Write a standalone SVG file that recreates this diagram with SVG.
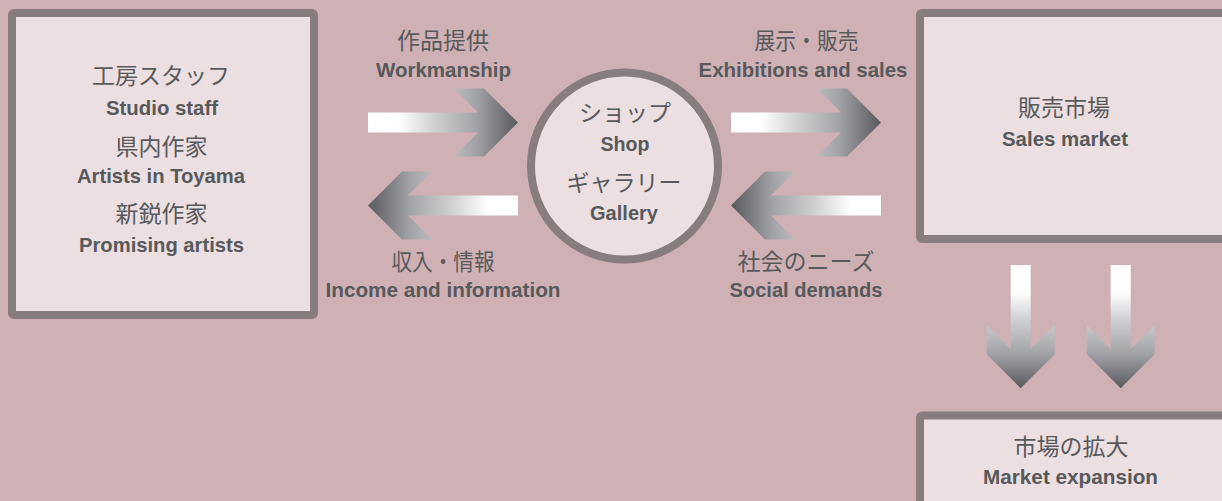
<svg xmlns="http://www.w3.org/2000/svg" xmlns:xlink="http://www.w3.org/1999/xlink" width="1222" height="501" viewBox="0 0 1222 501">
<style>
.box{fill:#ebdfe1;stroke:#877c7e;stroke-width:8}
.jp{font-family:"Noto Sans CJK JP","Noto Sans",sans-serif;font-size:23px;fill:#58595b;text-anchor:middle}
.en{font-family:"Liberation Sans","Open Sans",sans-serif;font-weight:bold;font-size:20.5px;fill:#58595b;text-anchor:middle}
</style>
<defs>
<linearGradient id="gR" x1="0" y1="0" x2="1" y2="0">
<stop offset="0" stop-color="#ffffff"/><stop offset="0.2" stop-color="#ffffff"/><stop offset="0.45" stop-color="#cdcfd1"/><stop offset="0.72" stop-color="#a1a3a6"/><stop offset="1" stop-color="#58595c"/>
</linearGradient>
<linearGradient id="gL" x1="1" y1="0" x2="0" y2="0">
<stop offset="0" stop-color="#ffffff"/><stop offset="0.2" stop-color="#ffffff"/><stop offset="0.45" stop-color="#cdcfd1"/><stop offset="0.72" stop-color="#a1a3a6"/><stop offset="1" stop-color="#58595c"/>
</linearGradient>
<linearGradient id="gD" x1="0" y1="0" x2="0" y2="1">
<stop offset="0" stop-color="#ffffff"/><stop offset="0.22" stop-color="#ffffff"/><stop offset="0.45" stop-color="#cdcfd1"/><stop offset="0.72" stop-color="#a1a3a6"/><stop offset="1" stop-color="#58595c"/>
</linearGradient>
<path id="arR" d="M368,112.5 H478 L454,88.5 H484 L518,122.5 L484,156.5 H454 L478,132.5 H368 Z" fill="url(#gR)"/>
<path id="arL" d="M518,195.5 H408 L432,171.5 H402 L368,205.5 L402,239.5 H432 L408,215.5 H518 Z" fill="url(#gL)"/>
<path id="arD" d="M1010.7,265 V349 L986.7,325 V354.3 L1020.7,388.3 L1054.7,354.3 V325 L1030.7,349 V265 Z" fill="url(#gD)"/>
</defs>
<rect width="1222" height="501" fill="#cfb1b5"/>

<g id="connectors">
<use xlink:href="#arR"/>
<use xlink:href="#arL"/>
<use xlink:href="#arR" transform="translate(363,0)"/>
<use xlink:href="#arL" transform="translate(363,0)"/>
<use xlink:href="#arD"/>
<use xlink:href="#arD" transform="translate(100,0)"/>
<text class="jp" x="443" y="49">作品提供</text>
<text class="en" x="443.5" y="77" textLength="135" lengthAdjust="spacingAndGlyphs">Workmanship</text>
<text class="jp" x="443" y="270" textLength="103" lengthAdjust="spacingAndGlyphs">収入・情報</text>
<text class="en" x="443" y="297" textLength="235" lengthAdjust="spacingAndGlyphs">Income and information</text>
<text class="jp" x="806.5" y="49" textLength="104" lengthAdjust="spacingAndGlyphs">展示・販売</text>
<text class="en" x="803" y="77" textLength="209" lengthAdjust="spacingAndGlyphs">Exhibitions and sales</text>
<text class="jp" x="806" y="270">社会のニーズ</text>
<text class="en" x="806" y="297" textLength="153" lengthAdjust="spacingAndGlyphs">Social demands</text>
</g>

<g id="node-studio">
<rect class="box" x="12" y="13" width="302" height="302" rx="2"/>
<text class="jp" x="161" y="84">工房スタッフ</text>
<text class="en" x="162" y="115" textLength="112" lengthAdjust="spacingAndGlyphs">Studio staff</text>
<text class="jp" x="161.5" y="155">県内作家</text>
<text class="en" x="161" y="183" textLength="168" lengthAdjust="spacingAndGlyphs">Artists in Toyama</text>
<text class="jp" x="161.5" y="222">新鋭作家</text>
<text class="en" x="161.5" y="251.5" textLength="165" lengthAdjust="spacingAndGlyphs">Promising artists</text>
</g>

<g id="node-shop">
<circle class="box" cx="624.5" cy="166" r="93.5"/>
<text class="jp" x="625" y="121">ショップ</text>
<text class="en" x="625" y="150.5" textLength="49" lengthAdjust="spacingAndGlyphs">Shop</text>
<text class="jp" x="624" y="191">ギャラリー</text>
<text class="en" x="624" y="220" textLength="68" lengthAdjust="spacingAndGlyphs">Gallery</text>
</g>

<g id="node-market">
<rect class="box" x="920" y="13" width="306" height="226" rx="2"/>
<text class="jp" x="1064" y="116">販売市場</text>
<text class="en" x="1065" y="145.5" textLength="126" lengthAdjust="spacingAndGlyphs">Sales market</text>
</g>

<g id="node-expansion">
<rect class="box" x="920" y="415.5" width="306" height="100" rx="2"/>
<text class="jp" x="1071" y="455">市場の拡大</text>
<text class="en" x="1070.5" y="484" textLength="175" lengthAdjust="spacingAndGlyphs">Market expansion</text>
</g>
</svg>
